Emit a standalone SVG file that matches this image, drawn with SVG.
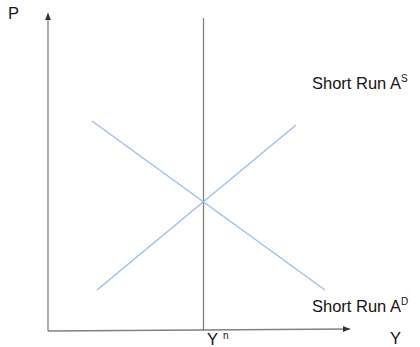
<svg xmlns="http://www.w3.org/2000/svg" width="420" height="347" viewBox="0 0 420 347">
<style>
.axis{stroke:#808080;stroke-width:1.3;fill:none}
.curve{stroke:#9dc0e8;stroke-width:1.5;fill:none}
.lbl{font-family:"Liberation Sans",Arial,sans-serif;font-size:16.5px;fill:#141414}
</style>
<defs>
<marker id="arr" markerWidth="8" markerHeight="8" refX="7" refY="4" orient="auto" markerUnits="userSpaceOnUse">
<path d="M0,1 L7,4 L0,7 Z" fill="#333"/>
</marker>
</defs>
<rect width="420" height="347" fill="#fff"/>
<g id="connectors">
<line class="axis" x1="48" y1="331" x2="48" y2="13" marker-end="url(#arr)"/>
<line class="axis" x1="48" y1="331" x2="350" y2="329" marker-end="url(#arr)"/>
<line class="axis" x1="203.5" y1="18" x2="203.5" y2="331" stroke="#666"/>
<line class="curve" x1="97" y1="290" x2="296" y2="125"/>
<line class="curve" x1="92" y1="121" x2="325" y2="290"/>
</g>
<g id="label-P"><text class="lbl" x="8" y="19" font-size="14">P</text></g>
<g id="label-AS"><text class="lbl" x="312" y="89">Short Run A<tspan font-size="10" dy="-7">S</tspan></text></g>
<g id="label-AD"><text class="lbl" x="312" y="312">Short Run A<tspan font-size="10" dy="-7">D</tspan></text></g>
<g id="label-Y"><text class="lbl" x="390" y="344">Y</text></g>
<g id="label-Yn"><text class="lbl" x="207" y="345">Y<tspan font-size="10" dx="5" dy="-6">n</tspan></text></g>
</svg>
